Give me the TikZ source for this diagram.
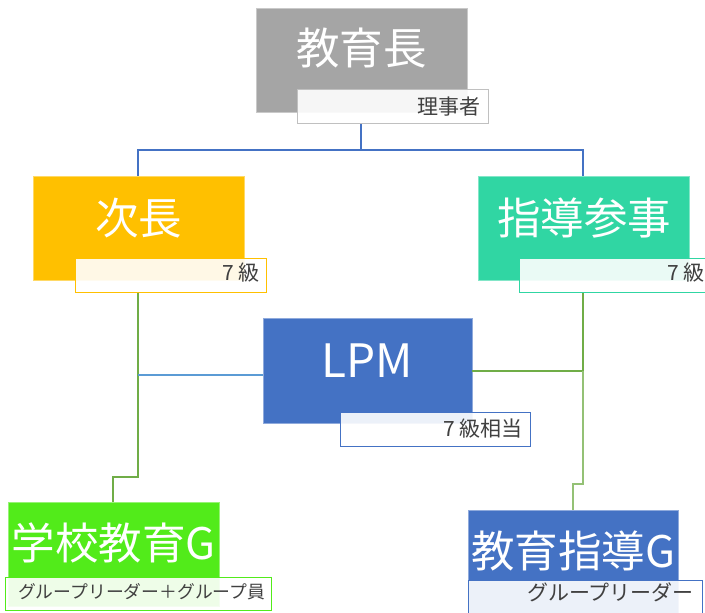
\documentclass[tikz,border=0pt]{standalone}
\usepackage{fontspec}
\setmainfont{Noto Sans CJK JP}
\definecolor{cgray}{RGB}{165,165,165}
\definecolor{corange}{RGB}{255,192,0}
\definecolor{cteal}{RGB}{48,214,163}
\definecolor{cblue}{RGB}{68,114,196}
\definecolor{clime}{RGB}{82,235,26}
\definecolor{cline}{RGB}{112,173,71}
\definecolor{clblue}{RGB}{91,155,213}
\definecolor{ctext}{RGB}{64,64,64}
\tikzset{
  mainbox/.style={draw=#1!60!white, fill=#1, line width=0.8pt, minimum width=211pt, minimum height=104pt, inner sep=0pt},
  maintext/.style={text=white, font=\fontsize{43.5}{45}\selectfont, inner sep=0pt},
  subbox/.style={draw=#1, fill=white, fill opacity=0.9, text opacity=1, text=ctext, line width=1pt, minimum height=34pt, inner sep=0pt},
  subtext/.style={text=ctext, font=\fontsize{21}{23}\selectfont, inner sep=0pt},
  conn/.style={draw=#1, line width=1.3pt},
}
\begin{document}
\begin{tikzpicture}[x=1pt,y=-1pt]
\useasboundingbox (0,0) rectangle (705,613);
% boxes
\node[mainbox=cgray] (a) at (361.5,60) {};
\node[maintext] (at) at (361.5,48) {教育長};
\node[subbox=cgray!70, minimum width=191pt] (as) at (392.5,106.5) {};
\node[subtext, anchor=east] (ast) at (481,106.5) {理事者};

\node[mainbox=corange] (b) at (138.5,228) {};
\node[maintext] (bt) at (138.5,218) {次長};
\node[subbox=corange, minimum width=191pt] (bs) at (170.5,275) {};
\node[subtext, anchor=east] (bst) at (260,273) {7 級};

\node[mainbox=cteal] (c) at (584,228) {};
\node[maintext] (ct) at (584,218) {指導参事};
\node[subbox=cteal, minimum width=193pt] (cs) at (615.5,275) {};
\node[subtext, anchor=east] (cst) at (705,273) {7 級};

\node[mainbox=cblue, minimum width=209pt, minimum height=105pt] (d) at (367.5,370.5) {};
\node[maintext, font=\fontsize{46}{48}\selectfont] (dt) at (367.5,361) {LPM};
\node[subbox=cblue, minimum width=190pt] (ds) at (435,429.5) {};
\node[subtext, anchor=east] (dst) at (523,429) {7 級相当};

\node[mainbox=clime] (e) at (113.5,554) {};
\node[maintext] (et) at (113.5,543) {学校教育G};
\node[subbox=clime, minimum width=266pt, minimum height=33pt] (es) at (138,593.5) {};
\node[subtext, anchor=west, font=\fontsize{17.8}{19}\selectfont] (est) at (18,592) {グループリーダー＋グループ員};

\node[mainbox=cblue, minimum width=210pt] (f) at (573,562) {};
\node[maintext] (ft) at (573,551) {教育指導G};
\node[subbox=cblue, minimum width=234pt, minimum height=40pt] (fs) at (585,600) {};
\node[subtext, anchor=east] (fst) at (694,592) {グループリーダー};

% junction coordinates
\coordinate (j1) at (361,150);
\coordinate (j1b) at (138,150);
\coordinate (j1c) at (583,150);
\coordinate (j2) at (138,477);
\coordinate (j2b) at (113,477);
\coordinate (j3) at (138,375);
\coordinate (j4) at (583,371);
\coordinate (j5) at (583,484);
\coordinate (j5b) at (573,484);

% connectors
\draw[conn=cblue] (as.south -| j1) -- (j1) -- (j1b) -- (b.north -| j1b);
\draw[conn=cblue] (j1) -- (j1c) -- (c.north -| j1c);
\draw[conn=cline] (bs.south -| j2) -- (j2) -- (j2b) -- (e.north -| j2b);
\draw[conn=clblue] (j3) -- (d.west |- j3);
\draw[conn=cline] (d.east |- j4) -- (j4);
\draw[conn=cline] (cs.south -| j4) -- (j4);
\draw[conn=cline!75!white] (j4) -- (j5) -- (j5b) -- (f.north -| j5b);
\end{tikzpicture}
\end{document}
